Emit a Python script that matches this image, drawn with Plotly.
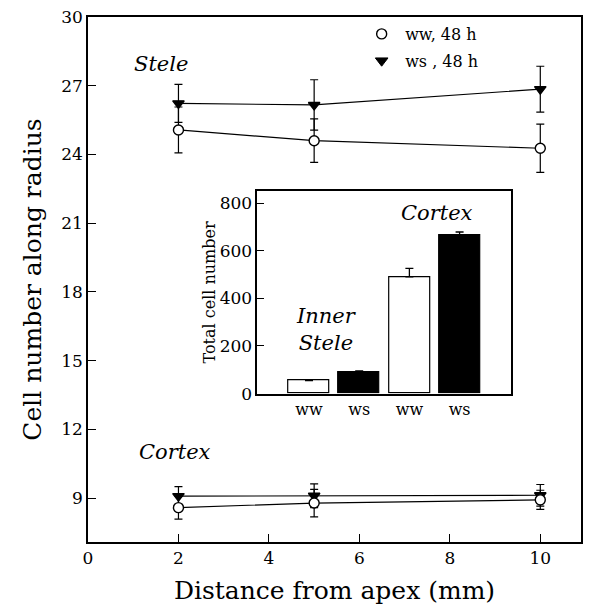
import plotly.graph_objects as go

# ---------------- data ----------------
distance = [2, 5, 10]

stele_ww = [25.07, 24.60, 24.27]
stele_ww_err = [1.00, 0.95, 1.05]
stele_ws = [26.23, 26.16, 26.85]
stele_ws_err = [0.83, 1.10, 1.00]

cortex_ww = [8.58, 8.78, 8.92]
cortex_ww_err = [0.50, 0.60, 0.42]
cortex_ws = [9.08, 9.10, 9.12]
cortex_ws_err = [0.42, 0.52, 0.47]

inset_labels = ["ww", "ws", "ww", "ws"]
inset_pos = [0, 1, 2, 3]
inset_values = [55, 89, 490, 665]
inset_err = [4, 6, 36, 14]
inset_colors = ["white", "black", "white", "black"]

FONT = "DejaVu Serif"
fig = go.Figure()

def series(x, y, err, symbol, fill, name):
    return go.Scatter(
        x=x, y=y, mode="lines+markers", name=name, showlegend=False,
        line=dict(color="black", width=1.2),
        marker=dict(symbol=symbol, size=10, color=fill,
                    line=dict(color="black", width=1.4)),
        error_y=dict(type="data", array=err, visible=True,
                     color="black", thickness=1.2, width=4),
        xaxis="x", yaxis="y",
    )

fig.add_trace(series(distance, stele_ws, stele_ws_err, "triangle-down", "black", "ws, 48 h"))
fig.add_trace(series(distance, stele_ww, stele_ww_err, "circle", "white", "ww, 48 h"))
fig.add_trace(series(distance, cortex_ws, cortex_ws_err, "triangle-down", "black", "ws, 48 h"))
fig.add_trace(series(distance, cortex_ww, cortex_ww_err, "circle", "white", "ww, 48 h"))

# legend-only entries
fig.add_trace(go.Scatter(x=[None], y=[None], mode="markers", name="ww, 48 h",
                         legendgroup="a",
                         marker=dict(symbol="circle", size=10, color="white",
                                     line=dict(color="black", width=1.4))))
fig.add_trace(go.Scatter(x=[None], y=[None], mode="markers", name="ws , 48 h",
                         legendgroup="b",
                         marker=dict(symbol="triangle-down", size=11, color="black",
                                     line=dict(color="black", width=1))))

# inset bars
fig.add_trace(go.Bar(
    x=inset_pos, y=inset_values, width=0.815, showlegend=False,
    marker=dict(color=inset_colors, line=dict(color="black", width=1.2)),
    error_y=dict(type="data", array=inset_err, arrayminus=[0, 0, 0, 0],
                 symmetric=False, color="black", thickness=1.3, width=4),
    xaxis="x2", yaxis="y2",
))

axis_common = dict(showline=True, linecolor="black", linewidth=1.5, mirror=True,
                   ticks="inside", tickcolor="black", tickwidth=1.3,
                   showgrid=False, zeroline=False)

fig.update_layout(
    width=590, height=613,
    margin=dict(l=88, r=7, t=15, b=71),
    plot_bgcolor="white", paper_bgcolor="white",
    font=dict(family=FONT, color="black", size=17),
    xaxis=dict(**axis_common, range=[0, 10.9], tickvals=[0, 2, 4, 6, 8, 10],
               ticklen=8, tickfont=dict(size=17),
               title=dict(text="Distance from apex (mm)", font=dict(size=25), standoff=14)),
    yaxis=dict(**axis_common, range=[7.08, 30], tickvals=[9, 12, 15, 18, 21, 24, 27, 30],
               ticklen=8, tickfont=dict(size=17),
               title=dict(text="Cell number along radius", font=dict(size=25), standoff=12)),
    xaxis2=dict(**{k: v for k, v in axis_common.items() if k != "ticks"}, ticks="",
                domain=[0.3434, 0.8586], anchor="y2", range=[-1.03, 4.03],
                tickvals=inset_pos, ticktext=inset_labels, tickfont=dict(size=16)),
    yaxis2=dict(**axis_common, domain=[0.2827, 0.668], anchor="x2", range=[0, 850],
                tickvals=[0, 200, 400, 600, 800], ticklen=7, tickfont=dict(size=17),
                title=dict(text="Total cell number", font=dict(size=16), standoff=0)),
    legend=dict(x=0.548, y=1.0, xanchor="left", yanchor="top",
                bgcolor="rgba(0,0,0,0)", font=dict(size=16),
                tracegroupgap=3, itemwidth=37, traceorder="grouped"),
    bargap=0,
)

ann = dict(showarrow=False, font=dict(family=FONT, size=21, style="italic"))
fig.add_annotation(text="Stele", x=1.62, y=27.95, xref="x", yref="y", **ann)
fig.add_annotation(text="Cortex", x=1.92, y=11.0, xref="x", yref="y", **ann)
fig.add_annotation(text="Inner<br>Stele", x=0.35, y=270, xref="x2", yref="y2", **ann)
fig.add_annotation(text="Cortex", x=2.55, y=760, xref="x2", yref="y2", **ann)

fig.write_html("out.html")
